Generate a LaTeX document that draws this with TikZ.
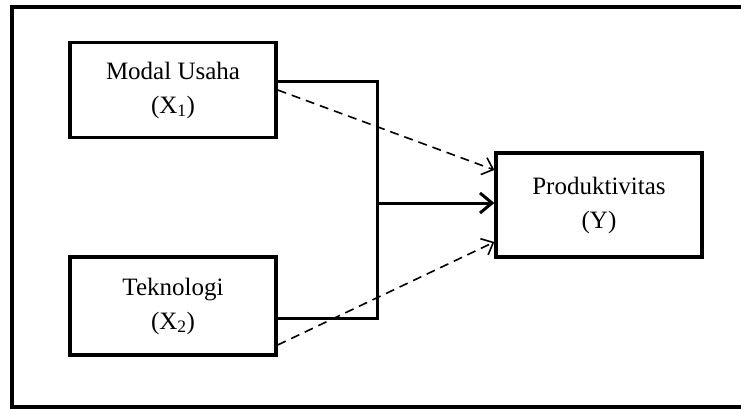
\documentclass[tikz,border=0pt]{standalone}
\usepackage{fontspec}
\setmainfont{Liberation Serif}
\usepackage{tikz}
\usetikzlibrary{positioning, arrows.meta}

\tikzset{
  varbox/.style={draw, line width=3.3pt, minimum width=206pt, minimum height=95pt,
    align=center, font=\fontsize{25}{34}\selectfont, inner sep=0pt},
  solidline/.style={line width=3pt},
  dashline/.style={line width=1.6pt, dash pattern=on 9pt off 6pt,
    -{Straight Barb[length=10pt,width=18pt,line width=1.6pt]}}
}

\begin{document}
\begin{tikzpicture}[x=1pt,y=1pt]
\useasboundingbox (0,0) rectangle (741,-409);

% draw outer frame
\draw[line width=4pt] (760,-7) -- (12,-7) -- (12,-407) -- (760,-407);

% variables
\node[varbox] (x1) at (173,-90) {Modal Usaha\\(X\textsubscript{1})};
\node[varbox, minimum height=98pt] (x2) at (173,-306) {Teknologi\\(X\textsubscript{2})};
\node[varbox, minimum height=104pt] (y) at (599,-205) {Produktivitas\\(Y)};

% joint line
\coordinate (j1) at (377,-82);
\coordinate (j2) at (377,-318);
\coordinate (jm) at (377,-203);
\draw[solidline] (x1.east |- j1) -- (j1) -- (j2) -- (x2.east |- j2);
\draw[solidline, -{Straight Barb[length=12pt,width=20pt,line width=3pt]}] (jm) -- (y.west |- jm);

% partial effects
\draw[dashline] (x1.east) -- ([yshift=35pt]y.west);
\draw[dashline] ([yshift=-39pt]x2.east) -- ([yshift=-37pt]y.west);
\end{tikzpicture}
\end{document}
